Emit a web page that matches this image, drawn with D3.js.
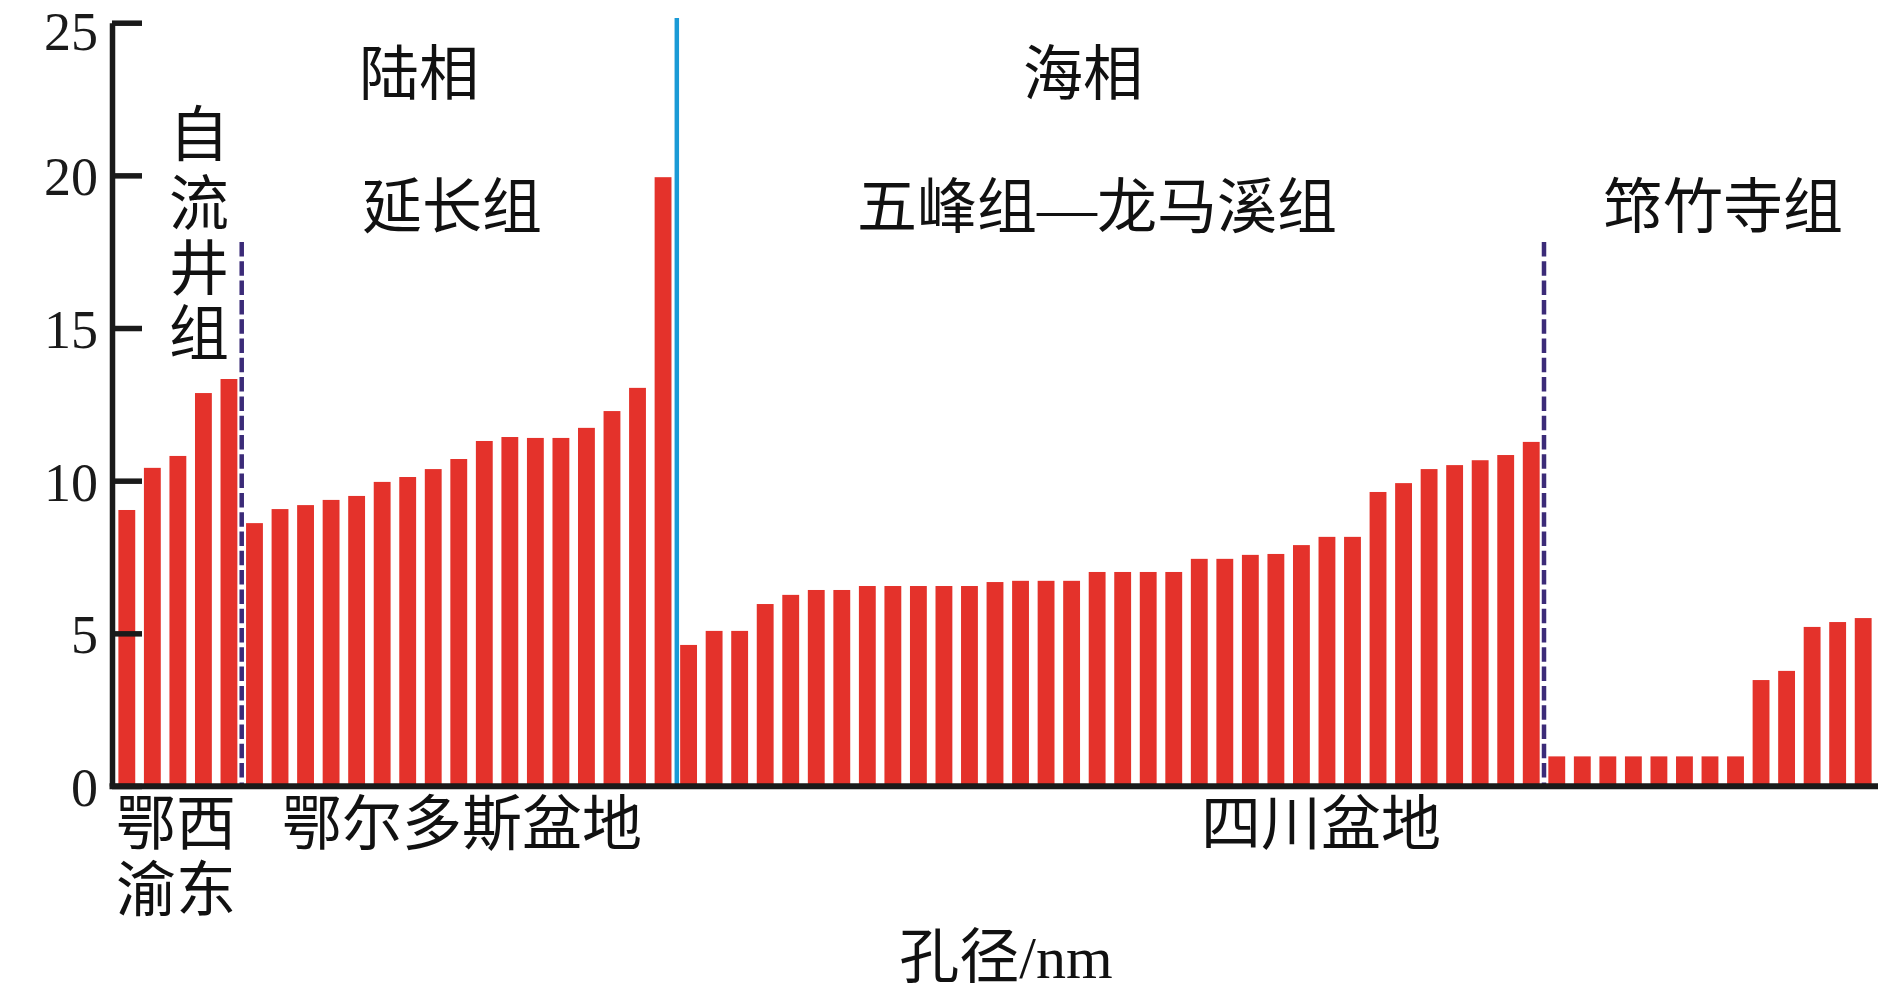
<!DOCTYPE html>
<html>
<head>
<meta charset="utf-8">
<script src="https://cdn.jsdelivr.net/npm/d3@7"></script>
<style>
  html, body { margin: 0; padding: 0; background: #ffffff; }
  svg { display: block; }
</style>
</head>
<body>
<svg id="chart" width="1890" height="992"></svg>
<script>
// ---- data (pore diameter, nm) ----
const ziliujing = [9.04, 10.42, 10.81, 12.87, 13.33];
const yanchang = [8.61, 9.07, 9.20, 9.37, 9.50, 9.96, 10.12, 10.38, 10.71, 11.30, 11.43, 11.40, 11.40, 11.73, 12.28, 13.04, 19.94];
const wufengLongmaxi = [4.62, 5.08, 5.08, 5.96, 6.26, 6.42, 6.42, 6.55, 6.55, 6.55, 6.55, 6.55, 6.68, 6.72, 6.72, 6.72,
  7.01, 7.01, 7.01, 7.01, 7.44, 7.44, 7.57, 7.60, 7.89, 8.16, 8.16, 9.63, 9.92, 10.38, 10.51, 10.67, 10.84, 11.27];
const qiongzhusi = [0.97, 0.97, 0.97, 0.97, 0.97, 0.97, 0.97, 0.97, 3.47, 3.77, 5.21, 5.37, 5.50];

const yTicks = [0, 5, 10, 15, 20, 25];
const faciesLabels = ["陆相", "海相"];
const formationLabels = ["自流井组", "延长组", "五峰组—龙马溪组", "筇竹寺组"];
const regionLabels = ["鄂西渝东", "鄂尔多斯盆地", "四川盆地"];
const xTitle = "孔径/nm";

// ---- build ----
const values = [].concat(ziliujing, yanchang, wufengLongmaxi, qiongzhusi);
const idx = d3.range(values.length);

const svg = d3.select("#chart");
const red = "#e4322b", axisCol = "#1a1a1a", blue = "#1a9ad6", dashCol = "#3b2b78";
const mixed = "'Liberation Serif', 'Noto Sans CJK SC', serif";

const x = d3.scaleBand().domain(idx).range([112, 1878]).paddingInner(0.34).paddingOuter(0.25);
const y = d3.scaleLinear().domain([0, 25]).range([786, 22.7]);

// bars
svg.append("g").selectAll("rect").data(values).join("rect")
  .attr("x", (d, i) => x(i))
  .attr("width", x.bandwidth())
  .attr("y", d => y(d))
  .attr("height", d => y(0) - y(d))
  .attr("fill", red);

// separators
const bw = x.bandwidth();
function gapX(i) { return (x(i - 1) + bw + x(i)) / 2; }
const b1 = ziliujing.length;
const b2 = b1 + yanchang.length;
const b3 = b2 + wufengLongmaxi.length;

svg.append("line").attr("x1", gapX(b1)).attr("x2", gapX(b1))
  .attr("y1", 242).attr("y2", y(0))
  .attr("stroke", dashCol).attr("stroke-width", 4.5).attr("stroke-dasharray", "14.5,4.8");
svg.append("line").attr("x1", gapX(b3)).attr("x2", gapX(b3))
  .attr("y1", 242).attr("y2", y(0))
  .attr("stroke", dashCol).attr("stroke-width", 4.5).attr("stroke-dasharray", "14.5,4.8");
svg.append("line").attr("x1", gapX(b2) + 1).attr("x2", gapX(b2) + 1)
  .attr("y1", 18).attr("y2", y(0))
  .attr("stroke", blue).attr("stroke-width", 4.5);

// y axis
const tickFont = 54;
const yAxis = d3.axisLeft(y).tickValues(yTicks).tickSize(-30).tickSizeOuter(0).tickPadding(14);
const gy = svg.append("g").attr("transform", "translate(112,0)").call(yAxis);
gy.select(".domain").attr("stroke", axisCol).attr("stroke-width", 5.5);
gy.selectAll(".tick line").attr("stroke", axisCol).attr("stroke-width", 5.5);
gy.selectAll(".tick text")
  .attr("fill", axisCol)
  .attr("font-family", "'Liberation Serif', serif")
  .attr("font-size", tickFont)
  .attr("dy", d => {
    const base = 0.36 * tickFont;
    const minBase = 0.9 * tickFont + 1 - y(d); // keep text box inside the page
    return Math.max(base, minBase);
  });

// x axis baseline
svg.append("line").attr("x1", 109.5).attr("x2", 1878)
  .attr("y1", 786.3).attr("y2", 786.3)
  .attr("stroke", axisCol).attr("stroke-width", 6);

// labels
function label(txt, cx, cy, anchor) {
  return svg.append("text").attr("x", cx).attr("y", cy)
    .attr("text-anchor", anchor || "middle")
    .attr("dominant-baseline", "central")
    .attr("font-family", mixed)
    .attr("font-size", 60)
    .attr("fill", "#111")
    .text(txt);
}
label(faciesLabels[0], 419, 75);
label(faciesLabels[1], 1083, 75);
label(formationLabels[1], 452, 208);
label(formationLabels[2], 1097, 208);
label(formationLabels[3], 1723, 208);

// vertical 自流井组
const vt = svg.append("text")
  .attr("text-anchor", "middle")
  .attr("font-family", mixed)
  .attr("font-size", 60)
  .attr("fill", "#111");
const vy = [136, 205, 270, 335];
Array.from(formationLabels[0]).forEach((c, i) => {
  vt.append("tspan").attr("x", 199).attr("y", vy[i]).attr("dominant-baseline", "central").text(c);
});

// region labels
label(regionLabels[0].slice(0, 2), 176, 825);
label(regionLabels[0].slice(2), 176, 891);
label(regionLabels[1], 462, 825);
label(regionLabels[2], 1321, 825);

// x title
label(xTitle, 1006, 958);
</script>
</body>
</html>
